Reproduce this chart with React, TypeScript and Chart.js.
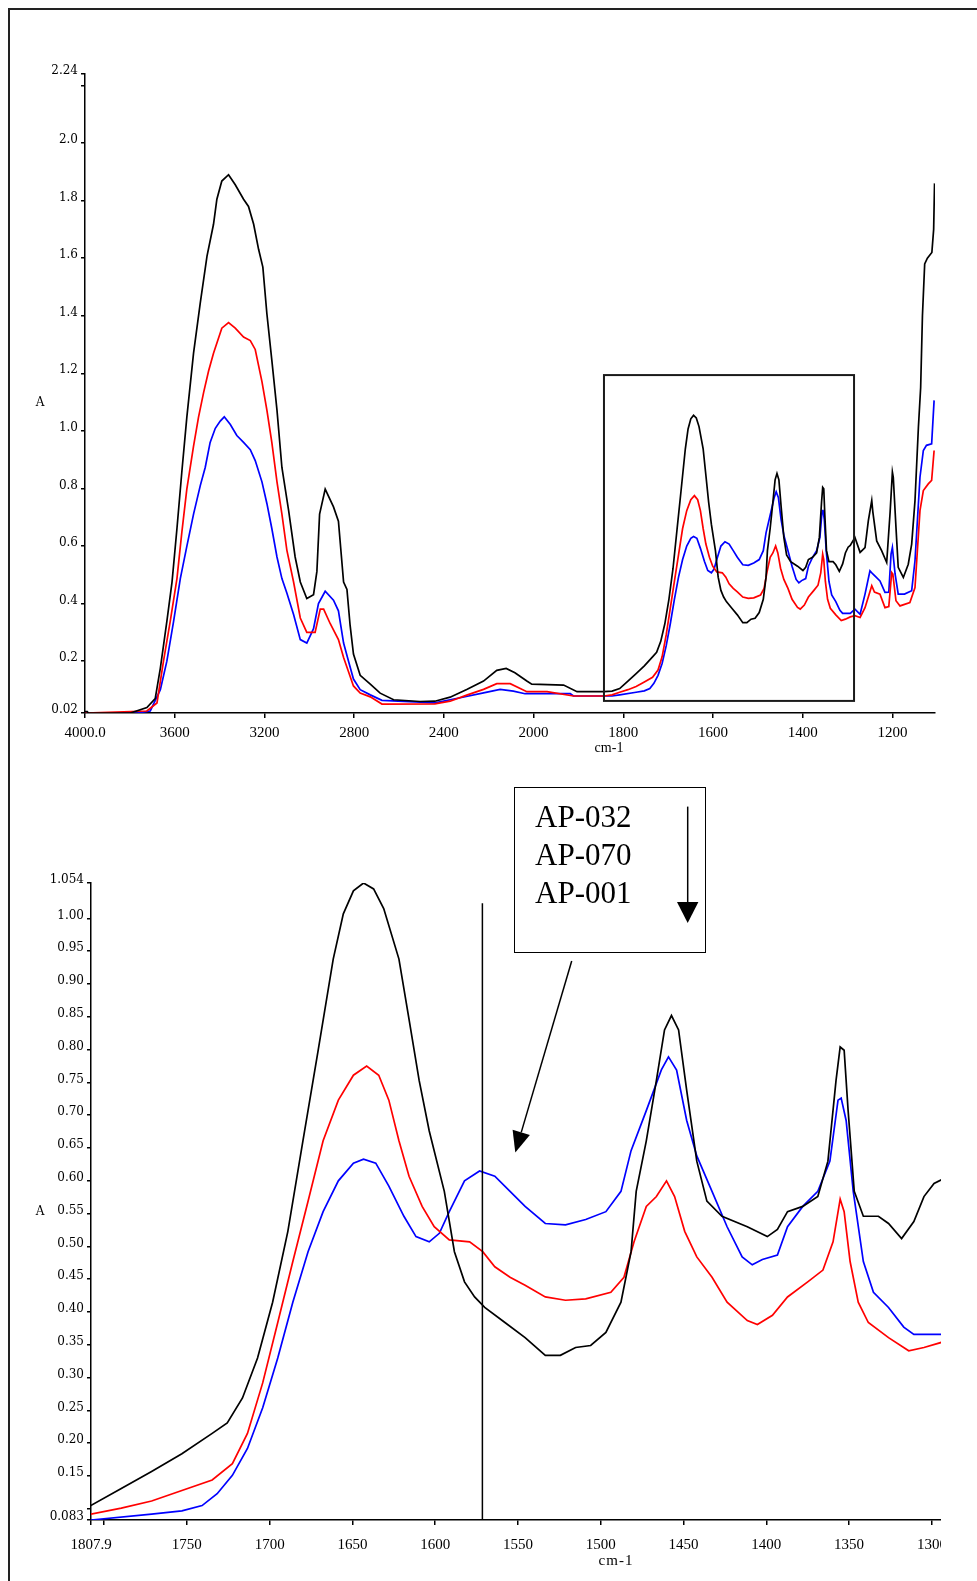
import React, { useEffect, useRef } from "react";
import { Chart, registerables } from "chart.js";

Chart.register(...registerables);

// ---------- data (wavenumber cm-1, absorbance A) ----------
const seriesNames = ["AP-032", "AP-070", "AP-001"];

const blackWn = [4000, 3990, 3985, 3798, 3724, 3687, 3664, 3635, 3612, 3590, 3568, 3546, 3516, 3486, 3456, 3427, 3412, 3390, 3360, 3330, 3293, 3271, 3248, 3226, 3207, 3189, 3167, 3144, 3122, 3092, 3063, 3040, 3011, 2981, 2966, 2954, 2929, 2892, 2870, 2847, 2832, 2818, 2803, 2773, 2728, 2684, 2624, 2506, 2440, 2372, 2298, 2223, 2164, 2122, 2083, 2030, 2008, 1933, 1903, 1843, 1825,
  1808, 1789.6, 1771.3, 1753, 1734.7, 1725.6, 1716.4, 1707.3, 1698.2, 1689, 1679.9, 1670.7, 1661.6, 1655.5, 1649.4, 1643.3, 1637.2, 1631.1, 1621.9, 1615.8, 1609.7, 1603.6, 1594.5, 1588.4, 1582.3, 1576.2, 1570.1, 1557.9, 1545.7, 1533.5, 1524.4, 1515.2, 1506.1, 1496.9, 1487.8, 1481.7, 1478.6, 1472.5, 1466.4, 1461.5, 1457.3, 1453, 1448.1, 1442, 1435.9, 1426.8, 1411.5, 1399.4, 1393.3, 1387.2, 1378, 1368.9, 1362.8, 1357.9, 1355.4, 1353, 1350.6, 1346.9, 1341.4, 1332.3, 1326.2, 1318.3, 1310.9, 1304.8, 1298.7, 1293.9,
  1283.5, 1272, 1261, 1253.6, 1246, 1243.6, 1235, 1224, 1212.7, 1205, 1200, 1198, 1192, 1187, 1175.6, 1164.6, 1157, 1149.6, 1142, 1137, 1133, 1128, 1122, 1112, 1108, 1106];
const blackAbs = [0.025, 0.025, 0.02, 0.02, 0.039, 0.07, 0.176, 0.338, 0.475, 0.661, 0.86, 1.047, 1.27, 1.445, 1.607, 1.718, 1.805, 1.868, 1.89, 1.855, 1.805, 1.78, 1.718, 1.631, 1.569, 1.407, 1.246, 1.072, 0.873, 0.723, 0.562, 0.475, 0.418, 0.431, 0.512, 0.711, 0.798, 0.736, 0.686, 0.475, 0.449, 0.325, 0.225, 0.151, 0.12, 0.089, 0.066, 0.06, 0.061, 0.075, 0.102, 0.131, 0.168, 0.175, 0.16, 0.131, 0.12, 0.117, 0.094, 0.094, 0.096,
  0.105, 0.131, 0.157, 0.184, 0.215, 0.231, 0.269, 0.33, 0.415, 0.523, 0.661, 0.799, 0.938, 1.007, 1.042, 1.054, 1.045, 1.015, 0.938, 0.846, 0.753, 0.676, 0.584, 0.492, 0.446, 0.423, 0.407, 0.384, 0.361, 0.334, 0.334, 0.346, 0.349, 0.369, 0.415, 0.492, 0.584, 0.661, 0.753, 0.83, 0.852, 0.83, 0.738, 0.63, 0.569, 0.546, 0.53, 0.515, 0.526, 0.553, 0.561, 0.576, 0.63, 0.753, 0.804, 0.799, 0.707, 0.584, 0.546, 0.546, 0.535, 0.512, 0.538, 0.576, 0.596, 0.602,
  0.63, 0.578, 0.595, 0.688, 0.758, 0.719, 0.618, 0.584, 0.543, 0.719, 0.857, 0.839, 0.665, 0.526, 0.491, 0.537, 0.607, 0.758, 1.013, 1.15, 1.4, 1.58, 1.6, 1.62, 1.7, 1.86];

const redWn = [4000, 3724, 3679, 3650, 3620, 3590, 3568, 3546, 3516, 3494, 3471, 3449, 3427, 3390, 3360, 3330, 3293, 3263, 3241, 3211, 3189, 3167, 3144, 3122, 3100, 3070, 3040, 3011, 2974, 2951, 2936, 2907, 2870, 2847, 2825, 2803, 2773, 2728, 2676, 2440, 2372, 2298, 2223, 2164, 2104, 2030, 1970, 1911, 1843, 1825,
  1808, 1789.6, 1771.3, 1753, 1734.7, 1722.5, 1713.4, 1704.2, 1695.1, 1686, 1676.8, 1667.7, 1658.5, 1649.4, 1641.4, 1634.1, 1628, 1621.9, 1615.8, 1607.9, 1600.6, 1591.5, 1579.2, 1571.3, 1564, 1554.8, 1545.7, 1533.5, 1521.3, 1509.1, 1493.9, 1486, 1479.9, 1472.5, 1466.4, 1460.3, 1455.4, 1449.3, 1442, 1432.8, 1423.7, 1411.5, 1405.4, 1396.3, 1387.2, 1375, 1365.8, 1359.7, 1355.4, 1353, 1349.4, 1344.5, 1338.4, 1326.2, 1314, 1304.8, 1293.9,
  1283.5, 1272, 1261, 1246, 1240, 1227.7, 1216.5, 1208, 1201.5, 1199, 1192, 1183, 1161, 1149.6, 1138.5, 1131, 1120, 1112.5, 1107];
const redAbs = [0.02, 0.027, 0.055, 0.2, 0.338, 0.487, 0.649, 0.798, 0.947, 1.047, 1.134, 1.208, 1.27, 1.357, 1.376, 1.357, 1.326, 1.314, 1.283, 1.171, 1.072, 0.96, 0.823, 0.711, 0.586, 0.475, 0.35, 0.3, 0.3, 0.381, 0.381, 0.331, 0.275, 0.213, 0.163, 0.114, 0.089, 0.076, 0.051, 0.052, 0.061, 0.082, 0.102, 0.122, 0.122, 0.094, 0.094, 0.079, 0.079, 0.083,
  0.092, 0.101, 0.112, 0.128, 0.144, 0.169, 0.215, 0.292, 0.384, 0.477, 0.569, 0.661, 0.723, 0.761, 0.775, 0.761, 0.723, 0.661, 0.607, 0.561, 0.53, 0.51, 0.507, 0.492, 0.469, 0.453, 0.441, 0.423, 0.418, 0.42, 0.43, 0.453, 0.507, 0.561, 0.576, 0.6, 0.576, 0.523, 0.484, 0.453, 0.415, 0.387, 0.381, 0.395, 0.423, 0.446, 0.464, 0.507, 0.572, 0.553, 0.477, 0.415, 0.384, 0.361, 0.341, 0.346, 0.354,
  0.358, 0.352, 0.386, 0.462, 0.44, 0.433, 0.386, 0.39, 0.508, 0.503, 0.41, 0.392, 0.404, 0.456, 0.723, 0.793, 0.816, 0.828, 0.932];

const blueWn = [4000, 3768, 3709, 3664, 3635, 3605, 3575, 3546, 3516, 3486, 3464, 3442, 3419, 3397, 3379, 3352, 3323, 3293, 3263, 3241, 3211, 3189, 3167, 3144, 3122, 3100, 3070, 3040, 3011, 2981, 2959, 2929, 2892, 2870, 2847, 2825, 2803, 2773, 2728, 2676, 2506, 2440, 2327, 2223, 2149, 2090, 2038, 1918, 1911, 1843, 1825,
  1808, 1771.3, 1753, 1740.8, 1731.7, 1722.5, 1713.4, 1704.2, 1695.1, 1686, 1676.8, 1667.7, 1658.5, 1649.4, 1643.3, 1635.9, 1628, 1618.9, 1611.6, 1603.6, 1597.5, 1591.5, 1582.3, 1573.2, 1564, 1554.8, 1545.7, 1533.5, 1521.3, 1509.1, 1496.9, 1487.8, 1481.7, 1472.5, 1463.4, 1459.1, 1454.2, 1448.1, 1442, 1432.8, 1423.7, 1414.6, 1408.5, 1402.4, 1393.3, 1387.2, 1378, 1368.9, 1361.6, 1356.7, 1354.8, 1351.8, 1347.5, 1341.4, 1335.3, 1326.2, 1317, 1310.9, 1293.9,
  1283.5, 1272, 1261, 1250, 1243.6, 1227.7, 1216.5, 1208, 1203, 1200, 1194, 1187, 1173, 1157, 1149.6, 1138.5, 1131, 1124, 1112.5, 1107];
const blueAbs = [0.02, 0.02, 0.027, 0.101, 0.2, 0.338, 0.487, 0.599, 0.711, 0.81, 0.873, 0.96, 1.009, 1.034, 1.049, 1.022, 0.984, 0.96, 0.935, 0.897, 0.823, 0.748, 0.661, 0.562, 0.487, 0.437, 0.362, 0.275, 0.263, 0.313, 0.4, 0.443, 0.412, 0.375, 0.263, 0.2, 0.138, 0.101, 0.083, 0.064, 0.058, 0.055, 0.073, 0.09, 0.102, 0.096, 0.087, 0.087, 0.079, 0.079, 0.079,
  0.083, 0.092, 0.097, 0.105, 0.123, 0.151, 0.192, 0.254, 0.33, 0.415, 0.492, 0.553, 0.6, 0.627, 0.633, 0.627, 0.592, 0.546, 0.515, 0.507, 0.52, 0.553, 0.6, 0.615, 0.607, 0.584, 0.561, 0.535, 0.533, 0.541, 0.553, 0.584, 0.646, 0.707, 0.769, 0.789, 0.769, 0.692, 0.638, 0.584, 0.53, 0.484, 0.472, 0.48, 0.487, 0.53, 0.561, 0.584, 0.63, 0.723, 0.726, 0.692, 0.584, 0.477, 0.43, 0.407, 0.377, 0.366, 0.366,
  0.381, 0.363, 0.433, 0.514, 0.503, 0.479, 0.439, 0.44, 0.572, 0.595, 0.503, 0.433, 0.433, 0.445, 0.549, 0.839, 0.932, 0.95, 0.955, 1.106];

// tick values and labels
const topXTicks = [4000, 3600, 3200, 2800, 2400, 2000, 1800, 1600, 1400, 1200];
const topXLabels = ["4000.0", "3600", "3200", "2800", "2400", "2000", "1800", "1600", "1400", "1200"];
const topYTicks = [0.02, 0.2, 0.4, 0.6, 0.8, 1.0, 1.2, 1.4, 1.6, 1.8, 2.0, 2.2, 2.24];
const topYLabels = ["0.02", "0.2", "0.4", "0.6", "0.8", "1.0", "1.2", "1.4", "1.6", "1.8", "2.0", "", "2.24"];
const botXTicks = [1807.9, 1800, 1750, 1700, 1650, 1600, 1550, 1500, 1450, 1400, 1350, 1300];
const botXLabels = ["1807.9", "", "1750", "1700", "1650", "1600", "1550", "1500", "1450", "1400", "1350", "1300"];
const botYTicks = [0.083, 0.1, 0.15, 0.2, 0.25, 0.3, 0.35, 0.4, 0.45, 0.5, 0.55, 0.6, 0.65, 0.7, 0.75, 0.8, 0.85, 0.9, 0.95, 1.0, 1.054];
const botYLabels = ["0.083", "", "0.15", "0.20", "0.25", "0.30", "0.35", "0.40", "0.45", "0.50", "0.55", "0.60", "0.65", "0.70", "0.75", "0.80", "0.85", "0.90", "0.95", "1.00", "1.054"];

// ranges and annotation values (data units)
const topRange = { wnMax: 4000, wnMin: 1105, aMin: 0.02, aMax: 2.24 };
const botRange = { wnMax: 1807.9, wnMin: 1294.5, aMin: 0.083, aMax: 1.054 };
const zoomBox = { wnFrom: 1843, wnTo: 1285.5, aLow: 0.062, aHigh: 1.194 };
const markerLine = { wn: 1571.5, aTop: 1.023 };

// piecewise axis: 2x expansion below 2000 cm-1
const toU = (v: number) => (v >= 2000 ? 4000 - v : 2000 + 2 * (2000 - v));

const COLORS = ["#000000", "#ff0000", "#0000ff"];
const SERIF = "'Liberation Serif', 'Times New Roman', serif";
const DSERIF = "'DejaVu Serif', serif";

function makeDatasets(transform: (v: number) => number) {
  const sets = [
    [blackWn, blackAbs],
    [redWn, redAbs],
    [blueWn, blueAbs],
  ];
  return sets.map(([wn, ab], i) => ({
    label: seriesNames[i],
    data: wn.map((w, k) => ({ x: transform(w), y: ab[k] })),
    borderColor: COLORS[i],
    backgroundColor: COLORS[i],
    borderWidth: 1.7,
    pointRadius: 0,
    fill: false,
    tension: 0,
  }));
}

function axisCommon(tickLength: number) {
  return {
    grid: { display: true, drawOnChartArea: false, drawTicks: true, tickLength, color: "#000", lineWidth: 1.5 },
    border: { display: true, color: "#000", width: 1.5 },
  };
}

export default function App() {
  const topRef = useRef<HTMLCanvasElement>(null);
  const botRef = useRef<HTMLCanvasElement>(null);

  useEffect(() => {
    const boxPlugin = {
      id: "zoomBox",
      afterDatasetsDraw(chart: any) {
        const { ctx, scales } = chart;
        const x1 = scales.x.getPixelForValue(toU(zoomBox.wnFrom));
        const x2 = scales.x.getPixelForValue(toU(zoomBox.wnTo));
        const y1 = scales.y.getPixelForValue(zoomBox.aHigh);
        const y2 = scales.y.getPixelForValue(zoomBox.aLow);
        ctx.save();
        ctx.strokeStyle = "#1a1a1a";
        ctx.lineWidth = 2;
        ctx.strokeRect(x1, y1, x2 - x1, y2 - y1);
        ctx.restore();
      },
    };
    const linePlugin = {
      id: "marker",
      afterDatasetsDraw(chart: any) {
        const { ctx, scales } = chart;
        const px = scales.x.getPixelForValue(markerLine.wn);
        ctx.save();
        ctx.strokeStyle = "#000";
        ctx.lineWidth = 1.5;
        ctx.beginPath();
        ctx.moveTo(px, scales.y.getPixelForValue(markerLine.aTop));
        ctx.lineTo(px, scales.y.getPixelForValue(botRange.aMin));
        ctx.stroke();
        ctx.restore();
      },
    };

    const top = new Chart(topRef.current!, {
      type: "line",
      data: { datasets: makeDatasets(toU) as any },
      options: {
        animation: false,
        responsive: false,
        events: [],
        layout: { padding: { left: 25, right: 42, top: 34, bottom: 37 } },
        plugins: { legend: { display: false }, tooltip: { enabled: false } },
        scales: {
          x: {
            type: "linear",
            min: toU(topRange.wnMax),
            max: toU(topRange.wnMin),
            ...axisCommon(5),
            afterBuildTicks: (s: any) => { s.ticks = topXTicks.map((v) => ({ value: toU(v) })); },
            afterFit: (s: any) => { s.height = 30; s.paddingLeft = 0; s.paddingRight = 0; },
            ticks: {
              autoSkip: false, maxRotation: 0, padding: 6, color: "#000",
              font: { family: SERIF, size: 15 },
              callback: (_v: any, i: number) => topXLabels[i],
            },
          },
          y: {
            type: "linear",
            min: topRange.aMin,
            max: topRange.aMax,
            ...axisCommon(4),
            afterBuildTicks: (s: any) => { s.ticks = topYTicks.map((v) => ({ value: v })); },
            afterFit: (s: any) => { s.width = 60; },
            ticks: {
              autoSkip: false, padding: 3, color: "#000", labelOffset: -3,
              font: { family: DSERIF, size: 12 },
              callback: (_v: any, i: number) => topYLabels[i],
            },
          },
        },
      } as any,
      plugins: [boxPlugin],
    });

    const bot = new Chart(botRef.current!, {
      type: "line",
      data: { datasets: makeDatasets((v) => v) as any },
      options: {
        animation: false,
        responsive: false,
        events: [],
        layout: { padding: { left: 31, right: 0, top: 43, bottom: 31 } },
        plugins: { legend: { display: false }, tooltip: { enabled: false } },
        scales: {
          x: {
            type: "linear",
            reverse: true,
            min: botRange.wnMin,
            max: botRange.wnMax,
            ...axisCommon(5),
            afterBuildTicks: (s: any) => { s.ticks = botXTicks.map((v) => ({ value: v })); },
            afterFit: (s: any) => { s.height = 30; s.paddingLeft = 0; s.paddingRight = 0; },
            ticks: {
              autoSkip: false, maxRotation: 0, padding: 11, color: "#000",
              font: { family: SERIF, size: 15 },
              callback: (_v: any, i: number) => botXLabels[i],
            },
          },
          y: {
            type: "linear",
            min: botRange.aMin,
            max: botRange.aMax,
            ...axisCommon(4),
            afterBuildTicks: (s: any) => { s.ticks = botYTicks.map((v) => ({ value: v })); },
            afterFit: (s: any) => { s.width = 60; },
            ticks: {
              autoSkip: false, padding: 3, color: "#000", labelOffset: -3,
              font: { family: DSERIF, size: 12 },
              callback: (_v: any, i: number) => botYLabels[i],
            },
          },
        },
      } as any,
      plugins: [linePlugin],
    });

    return () => {
      top.destroy();
      bot.destroy();
    };
  }, []);

  // diagonal arrow geometry (page pixels)
  const ax1 = 571.7, ay1 = 961, ax2 = 515.3, ay2 = 1152.5;
  const dx = ax2 - ax1, dy = ay2 - ay1;
  const len = Math.hypot(dx, dy);
  const ux = dx / len, uy = dy / len;
  const bx = ax2 - ux * 21, by = ay2 - uy * 21;
  const hw = 9;
  const head = `${ax2},${ay2} ${bx - uy * hw},${by + ux * hw} ${bx + uy * hw},${by - ux * hw}`;

  const abs = (o: React.CSSProperties): React.CSSProperties => ({ position: "absolute", ...o });

  return (
    <div style={{ position: "fixed", left: 0, top: 0, width: 977, height: 1581, overflow: "hidden", background: "#fff" }}>
      <div style={abs({ left: 8, top: 8, width: 1000, height: 1600, borderTop: "2px solid #222", borderLeft: "2px solid #222" })} />
      <canvas ref={topRef} width={977} height={740} style={abs({ left: 0, top: 40, width: 977, height: 740 })} />
      <canvas ref={botRef} width={941} height={741} style={abs({ left: 0, top: 840, width: 941, height: 741 })} />

      <div style={abs({ left: 40, top: 402, transform: "translate(-50%,-50%)", font: `12px ${DSERIF}`, lineHeight: 1, color: "#000" })}>A</div>
      <div style={abs({ left: 40, top: 1211, transform: "translate(-50%,-50%)", font: `12px ${DSERIF}`, lineHeight: 1, color: "#000" })}>A</div>
      <div style={abs({ left: 609, top: 748, transform: "translate(-50%,-50%)", font: `14px ${SERIF}`, lineHeight: 1, color: "#000", whiteSpace: "nowrap" })}>cm-1</div>
      <div style={abs({ left: 616, top: 1560, transform: "translate(-50%,-50%)", font: `15px ${SERIF}`, letterSpacing: "1px", lineHeight: 1, color: "#000", whiteSpace: "nowrap" })}>cm-1</div>

      <div style={abs({ left: 514, top: 787, width: 192, height: 166, border: "1.5px solid #000", boxSizing: "border-box" })} />
      <div style={abs({ left: 535, top: 798, font: `31px ${SERIF}`, lineHeight: "37.8px", color: "#000", whiteSpace: "nowrap" })}>
        {seriesNames.map((n) => (<div key={n}>{n}</div>))}
      </div>

      <svg width={977} height={1581} style={abs({ left: 0, top: 0, pointerEvents: "none" })}>
        <line x1={687.7} y1={806.6} x2={687.7} y2={905} stroke="#000" strokeWidth={1.5} />
        <polygon points="677,902 698.4,902 687.7,923" fill="#000" />
        <line x1={ax1} y1={ay1} x2={bx} y2={by} stroke="#000" strokeWidth={1.5} />
        <polygon points={head} fill="#000" />
      </svg>
    </div>
  );
}
